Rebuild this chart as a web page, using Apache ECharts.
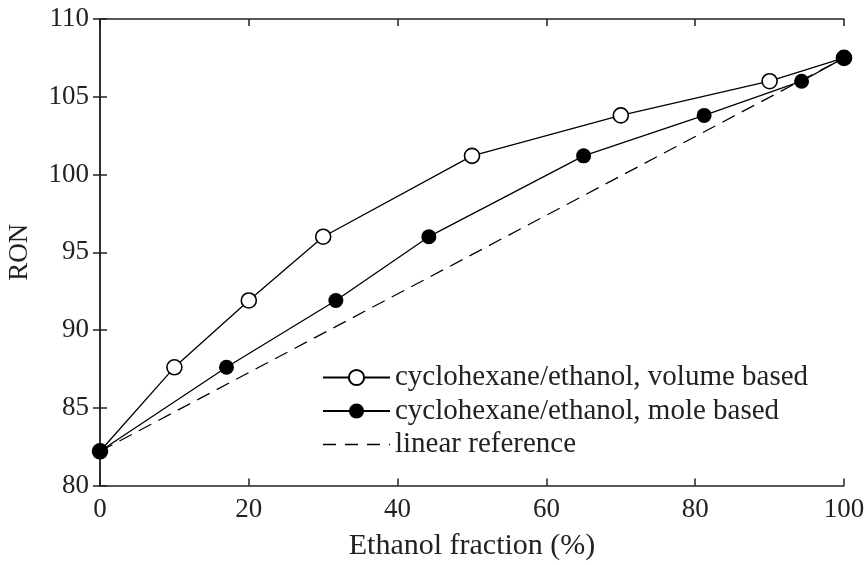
<!DOCTYPE html>
<html>
<head>
<meta charset="utf-8">
<script src="https://cdn.jsdelivr.net/npm/echarts@6/dist/echarts.min.js"></script>
<style>
  html, body { margin: 0; padding: 0; background: #fff; }
  #chart { width: 867px; height: 565px; }
</style>
</head>
<body>
<div id="chart"></div>
<script>
// Research octane number of cyclohexane/ethanol blends
const ronValues = [82.2, 87.6, 91.9, 96.0, 101.2, 103.8, 106.0, 107.5];
const volumeFraction = [0, 10, 20, 30, 50, 70, 90, 100];
const moleFraction = [0, 17.0, 31.7, 44.2, 65.0, 81.2, 94.3, 100];
const linearRefX = [0, 100];
const linearRefY = [82.2, 107.5];

const xTicks = { min: 0, max: 100, step: 20 };
const yTicks = { min: 80, max: 110, step: 5 };

const nameVolume = 'cyclohexane/ethanol, volume based';
const nameMole = 'cyclohexane/ethanol, mole based';
const nameLinear = 'linear reference';

const pairs = (xs, ys) => xs.map((x, i) => [x, ys[i]]);

const FONT = 'Liberation Serif';
const INK = '#222';
const DASH = [14, 8];

const chart = echarts.init(document.getElementById('chart'), null, { renderer: 'canvas' });

const boxAxisLine = { show: true, lineStyle: { color: INK, width: 1.5 } };
const boxTick = { show: true, inside: true, length: 7, lineStyle: { color: INK, width: 1.5 } };

chart.setOption({
  animation: false,
  backgroundColor: '#fff',
  grid: {
    left: 100, right: 23, top: 19, bottom: 79.5,
    containLabel: false, outerBoundsMode: 'none'
  },
  legend: {
    orient: 'vertical',
    left: 322,
    top: 363,
    itemWidth: 67,
    itemHeight: 19,
    itemGap: 4.5,
    padding: 0,
    data: [
      nameVolume,
      nameMole,
      {
        name: nameLinear,
        itemStyle: { color: 'transparent', borderWidth: 0, opacity: 0 },
        lineStyle: { type: [13, 9], width: 1.4, color: '#000' }
      }
    ],
    textStyle: { fontFamily: FONT, fontSize: 29, color: INK, lineHeight: 28 }
  },
  xAxis: [
    {
      type: 'value', position: 'bottom',
      min: xTicks.min, max: xTicks.max, interval: xTicks.step,
      name: 'Ethanol fraction (%)', nameLocation: 'middle', nameGap: 46,
      nameTextStyle: { fontFamily: FONT, fontSize: 30, color: INK },
      axisLine: boxAxisLine, axisTick: boxTick,
      axisLabel: { fontFamily: FONT, fontSize: 27, color: INK, margin: 11 },
      splitLine: { show: false }
    },
    {
      type: 'value', position: 'top',
      min: xTicks.min, max: xTicks.max, interval: xTicks.step,
      axisLine: boxAxisLine, axisTick: boxTick,
      axisLabel: { show: false }, splitLine: { show: false }
    }
  ],
  yAxis: [
    {
      type: 'value', position: 'left',
      min: yTicks.min, max: yTicks.max, interval: yTicks.step,
      name: 'RON', nameLocation: 'middle', nameGap: 67, nameRotate: 90,
      nameTextStyle: { fontFamily: FONT, fontSize: 27, color: INK },
      axisLine: boxAxisLine, axisTick: boxTick,
      axisLabel: { fontFamily: FONT, fontSize: 27, color: INK, margin: 11 },
      splitLine: { show: false }
    },
    {
      type: 'value', position: 'right',
      min: yTicks.min, max: yTicks.max, interval: yTicks.step,
      axisLine: boxAxisLine, axisTick: boxTick,
      axisLabel: { show: false }, splitLine: { show: false }
    }
  ],
  series: [
    {
      name: nameLinear, type: 'line', z: 1,
      data: pairs(linearRefX, linearRefY),
      symbol: 'none',
      lineStyle: { color: '#000', width: 1.25, type: DASH },
      itemStyle: { color: '#000' }
    },
    {
      name: nameVolume, type: 'line', z: 2,
      data: pairs(volumeFraction, ronValues),
      symbol: 'circle', symbolSize: 15,
      lineStyle: { color: '#000', width: 1.3 },
      itemStyle: { color: '#fff', borderColor: '#000', borderWidth: 1.6 }
    },
    {
      name: nameMole, type: 'line', z: 3,
      data: pairs(moleFraction, ronValues),
      symbol: 'circle', symbolSize: 15,
      lineStyle: { color: '#000', width: 1.3 },
      itemStyle: { color: '#000', borderColor: '#000', borderWidth: 0 }
    }
  ]
});
</script>
</body>
</html>
